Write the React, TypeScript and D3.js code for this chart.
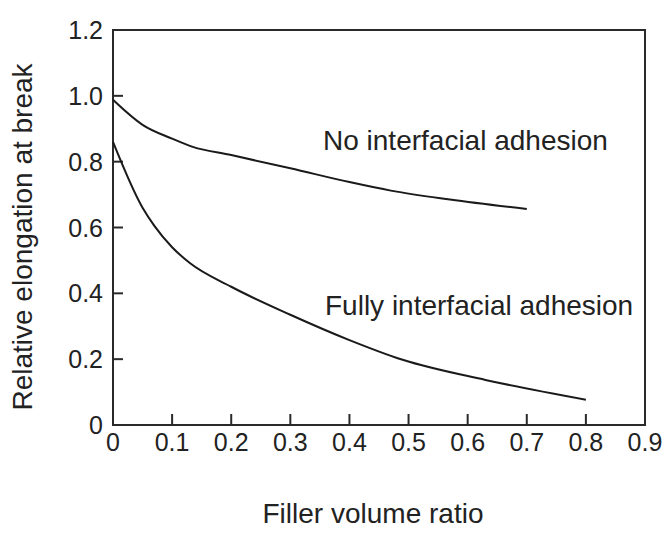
import React from "react";
import * as d3 from "d3";

const noAdhesionX = [0, 0.05, 0.1, 0.135, 0.2, 0.3, 0.4, 0.47, 0.57, 0.7];
const noAdhesionY = [0.988, 0.912, 0.87, 0.845, 0.82, 0.78, 0.738, 0.712, 0.685, 0.656];
const fullAdhesionX = [0, 0.05, 0.07, 0.1, 0.13, 0.2, 0.3, 0.4, 0.49, 0.63, 0.8];
const fullAdhesionY = [0.86, 0.66, 0.605, 0.54, 0.492, 0.42, 0.335, 0.258, 0.198, 0.137, 0.077];
const xTicks = [0, 0.1, 0.2, 0.3, 0.4, 0.5, 0.6, 0.7, 0.8, 0.9];
const yTicks = [0, 0.2, 0.4, 0.6, 0.8, 1.0, 1.2];
const labels = ["No interfacial adhesion", "Fully interfacial adhesion"];

const W = 670, H = 535;
const left = 113, right = 645, top = 30, bottom = 425;

export default function App() {
  const x = d3.scaleLinear().domain([0, 0.9]).range([left, right]);
  const y = d3.scaleLinear().domain([0, 1.2]).range([bottom, top]);
  const line = d3.line<[number, number]>().x(d => x(d[0])).y(d => y(d[1])).curve(d3.curveMonotoneX);
  const s1 = noAdhesionX.map((v, i) => [v, noAdhesionY[i]] as [number, number]);
  const s2 = fullAdhesionX.map((v, i) => [v, fullAdhesionY[i]] as [number, number]);
  const font = "'Liberation Sans', Arial, sans-serif";
  const stroke = "#2a2a2a";
  return (
    <svg width={W} height={H} style={{ position: "absolute", left: 0, top: 0, background: "#fff" }} fontFamily={font}>
      <rect x={left} y={top} width={right - left} height={bottom - top} fill="none" stroke={stroke} strokeWidth={2} />
      {xTicks.filter(t => t > 0 && t < 0.9).map(t => (
        <line key={"xt" + t} x1={x(t)} x2={x(t)} y1={bottom} y2={bottom - 11} stroke={stroke} strokeWidth={2} />
      ))}
      {yTicks.filter(t => t > 0 && t < 1.2).map(t => (
        <line key={"yt" + t} x1={left} x2={left + 10} y1={y(t)} y2={y(t)} stroke={stroke} strokeWidth={2} />
      ))}
      {xTicks.map(t => (
        <text key={"xl" + t} x={x(t)} y={bottom + 26} textAnchor="middle" fontSize={25} fill="#222">
          {t === 0 ? "0" : d3.format(".1f")(t)}
        </text>
      ))}
      {yTicks.map(t => (
        <text key={"yl" + t} x={left - 10} y={y(t)} dy="0.36em" textAnchor="end" fontSize={25} fill="#222">
          {t === 0 ? "0" : d3.format(".1f")(t)}
        </text>
      ))}
      <path d={line(s1) || ""} fill="none" stroke="#1a1a1a" strokeWidth={2} />
      <path d={line(s2) || ""} fill="none" stroke="#1a1a1a" strokeWidth={2} />
      <text x={323} y={150} fontSize={28} fill="#222">{labels[0]}</text>
      <text x={325} y={315} fontSize={28} fill="#222">{labels[1]}</text>
      <text x={373} y={523} textAnchor="middle" fontSize={28} fill="#222">Filler volume ratio</text>
      <text transform="translate(32,237) rotate(-90)" textAnchor="middle" fontSize={28} fill="#222">Relative elongation at break</text>
    </svg>
  );
}
